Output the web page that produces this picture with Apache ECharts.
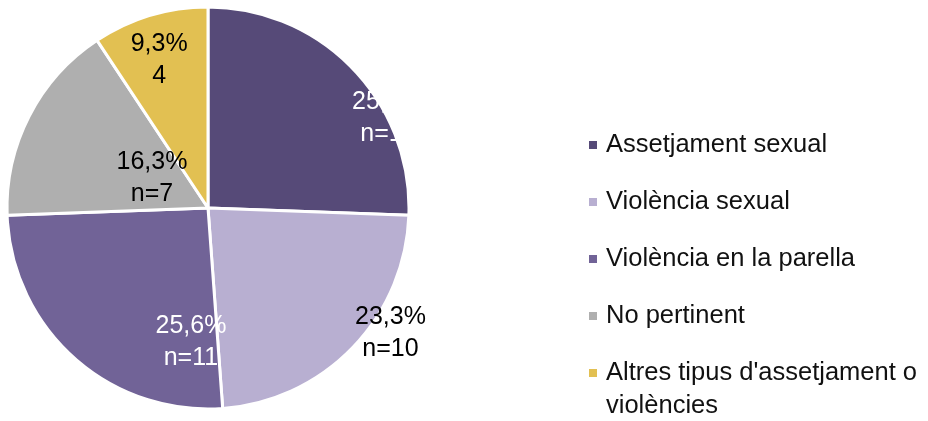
<!DOCTYPE html>
<html>
<head>
<meta charset="utf-8">
<script src="https://cdn.jsdelivr.net/npm/echarts@6/dist/echarts.min.js"></script>
<style>
    html, body { margin: 0; padding: 0; background: #fff; }
    #chart { width: 928px; height: 421px; }
</style>
</head>
<body>
<div id="chart"></div>
<script>
    // dades del gràfic
    var categories = ['Assetjament sexual', 'Violència sexual', 'Violència en la parella', 'No pertinent', "Altres tipus d'assetjament o violències"];
    var counts = [11, 10, 11, 7, 4];
    var colors = ['#564a78', '#b8afd1', '#716397', '#afafaf', '#e2c052'];
    var labelColors = ['#ffffff', '#000000', '#ffffff', '#000000', '#000000'];
    var showN = [true, true, true, true, false];
    // desplaçament de cada etiqueta respecte la posició 'inside'
    var labelShift = [[105, -18], [108, 53], [52, 57], [36, 17], [-19, -49]];

    var font = "'Liberation Sans', Arial, sans-serif";
    var legendLine = 33;

    var chart = echarts.init(document.getElementById('chart'));
    var option = {
        animation: false,
        legend: {
            orient: 'vertical',
            left: 587,
            top: 145 - legendLine * 1.5,
            height: 400,
            padding: 0,
            icon: 'rect',
            itemWidth: 10,
            itemHeight: 10,
            // totes les entrades tenen una caixa de 3 línies, la línia central alineada amb el quadrat
            itemGap: 57 - legendLine * 3,
            selectedMode: false,
            textStyle: {
                fontFamily: font,
                fontSize: 25.5,
                lineHeight: legendLine,
                color: '#111111'
            },
            formatter: function (name) {
                if (name.indexOf(' violències') >= 0) {
                    return '\n' + name.replace(' violències', '\nviolències');
                }
                return name;
            },
            data: categories.map(function (c) {
                var twoLines = c.indexOf(' violències') >= 0;
                return {
                    name: c,
                    textStyle: { padding: twoLines ? [0, 0, 0, 3] : [legendLine, 0, legendLine, 3] }
                };
            })
        },
        series: [
            {
                type: 'pie',
                center: [208, 208],
                radius: 201,
                startAngle: 90,
                clockwise: true,
                emphasis: { disabled: true },
                itemStyle: { borderColor: '#ffffff', borderWidth: 3 },
                label: {
                    show: true,
                    position: 'inside',
                    fontFamily: font,
                    fontSize: 25,
                    lineHeight: 32,
                    formatter: function (p) {
                        var pct = p.percent.toFixed(1).replace('.', ',');
                        return pct + '%\n' + (showN[p.dataIndex] ? 'n=' : '') + p.value;
                    }
                },
                labelLine: { show: false },
                labelLayout: function (p) {
                    var s = labelShift[p.dataIndex];
                    return { dx: s[0], dy: s[1] };
                },
                data: categories.map(function (c, i) {
                    return {
                        name: c,
                        value: counts[i],
                        itemStyle: { color: colors[i] },
                        label: { color: labelColors[i] }
                    };
                })
            }
        ]
    };
    chart.setOption(option);
</script>
</body>
</html>
